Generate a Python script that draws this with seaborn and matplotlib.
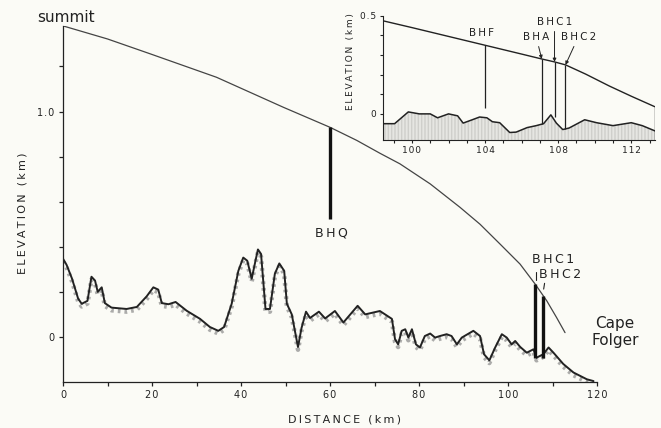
import numpy as np
import pandas as pd
import matplotlib
matplotlib.use("Agg")
import matplotlib.pyplot as plt
import seaborn as sns

# ice surface along the flow line (km, km)
surf_x = [0, 10, 19.6, 34.5, 49.5, 60, 66, 71.2, 75.7, 82.5, 89.2, 93.7, 98.2, 102.7, 106.1,
          108.7, 110.9, 112.8]
surf_y = [1.38, 1.322, 1.256, 1.152, 1.019, 0.93, 0.872, 0.815, 0.768, 0.679, 0.575, 0.50,
          0.412, 0.323, 0.234, 0.16, 0.086, 0.019]

# bedrock profile
bed_x = [0, 0.8, 2.0, 3.4, 4.2, 5.5, 6.4, 7.2, 7.8, 8.7, 9.4, 10.9, 14.3, 16.6, 18.8, 20.3,
         21.4, 22.2, 23.7, 25.3, 27.8, 30.8, 33.0, 34.9, 36.2, 37.9, 39.4, 40.5, 41.4, 42.4,
         43.1, 43.8, 44.5, 45.5, 46.5, 47.6, 48.6, 49.7, 50.3, 51.4, 52.8, 53.6, 54.6, 55.5,
         57.5, 58.9, 61.1, 63.0, 66.2, 67.9, 71.2, 73.9, 74.6, 75.3, 76.1, 76.9, 77.6, 78.4,
         79.3, 80.2, 81.3, 82.5, 83.6, 84.7, 86.2, 87.3, 88.5, 89.6, 92.2, 93.7, 94.6, 95.8,
         97.1, 98.6, 99.7, 100.8, 101.6, 102.7, 104.2, 105.7, 106.4, 107.9, 109.1, 110.2,
         112.4, 114.7, 117.7, 119.2]
bed_y = [0.347, 0.32, 0.26, 0.17, 0.147, 0.16, 0.267, 0.25, 0.20, 0.22, 0.15, 0.13, 0.124,
         0.133, 0.18, 0.22, 0.21, 0.15, 0.145, 0.155, 0.116, 0.08, 0.044, 0.027, 0.044, 0.147,
         0.293, 0.352, 0.338, 0.258, 0.324, 0.388, 0.368, 0.124, 0.124, 0.28, 0.326, 0.293,
         0.147, 0.10, -0.045, 0.04, 0.112, 0.084, 0.112, 0.082, 0.115, 0.064, 0.138, 0.10,
         0.115, 0.08, -0.01, -0.033, 0.027, 0.034, -0.003, 0.034, -0.033, -0.047, 0.004,
         0.015, -0.003, 0.004, 0.012, 0.004, -0.033, -0.003, 0.027, 0.004, -0.077, -0.104,
         -0.047, 0.012, -0.003, -0.033, -0.018, -0.044, -0.07, -0.055, -0.092, -0.077,
         -0.047, -0.07, -0.12, -0.158, -0.188, -0.196]

# boreholes on the main profile
holes_name = ["BHQ", "BHC1", "BHC2"]
holes_x = [60, 106.1, 107.9]
holes_bottom = [0.524, -0.093, -0.093]

# inset: last 15 km
surf_in_x = [98.4, 100, 102, 104, 106, 107.1, 107.8, 108.4, 109.5, 110.8, 112, 113.3]
surf_in_y = [0.475, 0.44, 0.395, 0.35, 0.305, 0.28, 0.265, 0.25, 0.203, 0.142, 0.09, 0.036]
bed_in_x = [98.4, 99.05, 99.8, 100.4, 101.0, 101.4, 102.0, 102.5, 102.8, 103.3, 103.7, 104.1,
            104.4, 104.8, 105.35, 105.7, 106.3, 106.8, 107.2, 107.6, 107.9, 108.25, 108.6,
            109.45, 110.1, 111.0, 112.0, 112.6, 113.3]
bed_in_y = [-0.05, -0.05, 0.01, 0.0, 0.0, -0.02, 0.0, -0.01, -0.047, -0.03, -0.016, -0.02,
            -0.04, -0.045, -0.095, -0.093, -0.07, -0.06, -0.05, -0.005, -0.047, -0.08, -0.072,
            -0.03, -0.045, -0.06, -0.045, -0.06, -0.087]
holes_in_name = ["BHF", "BHA", "BHC1", "BHC2"]
holes_in_x = [104, 107.1, 107.8, 108.4]
holes_in_bottom = [0.03, -0.05, -0.015, -0.075]

x_ticks = list(range(0, 121, 10))
x_ticklabels = ["0", "", "20", "", "40", "", "60", "", "80", "", "100", "", "120"]
y_ticks = [0, 0.2, 0.4, 0.6, 0.8, 1.0, 1.2]
y_ticklabels = ["0", "", "", "", "", "1.0", ""]
xin_ticks = list(range(99, 114))
xin_ticklabels = ["", "100", "", "", "", "104", "", "", "", "108", "", "", "", "112", ""]
yin_ticks = [0, 0.1, 0.2, 0.3, 0.4, 0.5]
yin_ticklabels = ["0", "", "", "", "", "0.5"]

thin = "\u2009"
hair = "\u200a"
def spaced(s, sep=thin):
    return sep.join(s)

bg = "#fbfbf6"
ink = "#222222"
sns.set_style("ticks")
plt.rcParams["font.family"] = ["DejaVu Sans"]
plt.rcParams["axes.edgecolor"] = ink
plt.rcParams["xtick.color"] = ink
plt.rcParams["ytick.color"] = ink
plt.rcParams["lines.solid_joinstyle"] = "round"

fig = plt.figure(figsize=(6.61, 4.28), dpi=100, facecolor=bg)
ax = fig.add_axes([0.0953, 0.1075, 0.808, 0.832])
ax.set_facecolor(bg)

surf = pd.DataFrame({"x": surf_x, "y": surf_y})
bed = pd.DataFrame({"x": bed_x, "y": bed_y})

# stippled underside of the bed line
ax.plot(bed["x"], bed["y"] - 0.012, color="#8a8a8a", lw=3.2, ls=(0, (0.6, 0.9)), alpha=0.7)
sns.lineplot(data=bed, x="x", y="y", ax=ax, color=ink, lw=1.4, sort=False, estimator=None)
sns.lineplot(data=surf, x="x", y="y", ax=ax, color="#444444", lw=0.9, sort=False, estimator=None)

for name, hx, hb in zip(holes_name, holes_x, holes_bottom):
    top = np.interp(hx, surf_x, surf_y)
    ax.vlines(hx, hb, top, color="#111111", lw=2.4)

ax.text(60.4, 0.462, spaced("BHQ"), ha="center", va="center", fontsize=9, color=ink)
ax.annotate(spaced("BHC1"), xy=(106.3, 0.24), xytext=(110.0, 0.342), ha="center", va="center",
            fontsize=9, color=ink,
            arrowprops=dict(arrowstyle="-", lw=0.8, color=ink,
                            connectionstyle="angle,angleA=0,angleB=90", relpos=(0.12, 0)))
ax.text(111.7, 0.276, spaced("BHC2"), ha="center", va="center", fontsize=9, color=ink)
ax.annotate("", xy=(107.9, 0.2), xytext=(108.3, 0.25),
            arrowprops=dict(arrowstyle="-", lw=0.8, color=ink))
ax.text(124, 0.022, "Cape\nFolger", ha="center", va="center", fontsize=11, color=ink,
        linespacing=1.2, clip_on=False)
ax.text(0.7, 1.418, "summit", ha="center", va="center", fontsize=11, color=ink, clip_on=False)

ax.set_xlim(0, 120)
ax.set_ylim(-0.2, 1.38)
ax.set_xticks(x_ticks)
ax.set_xticklabels([spaced(t, hair) for t in x_ticklabels])
ax.set_yticks(y_ticks)
ax.set_yticklabels([spaced(t, hair) for t in y_ticklabels])
ax.tick_params(length=3, width=0.9, labelsize=7, pad=3)
ax.set_xlabel("")
ax.set_ylabel("")
sns.despine(ax=ax)
for s in ["left", "bottom"]:
    ax.spines[s].set_linewidth(0.9)

fig.text(23 / 661, 1 - 213 / 428, spaced("ELEVATION (km)"), rotation=90, ha="center",
         va="center", fontsize=8, color=ink)
fig.text(344 / 661, 1 - 420 / 428, spaced("DISTANCE (km)"), ha="center", va="center",
         fontsize=8, color=ink)

# inset
axi = fig.add_axes([0.579, 0.673, 0.412, 0.29])
axi.patch.set_alpha(0)
ylo = -0.133
surf_in = pd.DataFrame({"x": surf_in_x, "y": surf_in_y})
bed_in = pd.DataFrame({"x": bed_in_x, "y": bed_in_y})
axi.fill_between(bed_in["x"], bed_in["y"], ylo, facecolor="#e6e6e2", edgecolor="#cfcfcb",
                 hatch="|||||", lw=0)
sns.lineplot(data=bed_in, x="x", y="y", ax=axi, color=ink, lw=1.1, sort=False, estimator=None)
sns.lineplot(data=surf_in, x="x", y="y", ax=axi, color=ink, lw=1.0, sort=False, estimator=None)
axi.vlines(surf_in_x[-1], ylo, surf_in_y[-1], color=ink, lw=1.0)

for name, hx, hb in zip(holes_in_name, holes_in_x, holes_in_bottom):
    top = np.interp(hx, surf_in_x, surf_in_y)
    axi.vlines(hx, hb, top, color=ink, lw=0.9)

axi.text(103.8, 0.413, spaced("BHF"), ha="center", va="center", fontsize=7.5, color=ink)
lbl_pos = {"BHA": (106.8, 0.367), "BHC1": (107.8, 0.444), "BHC2": (109.1, 0.367)}
for name, hx in zip(holes_in_name, holes_in_x):
    if name not in lbl_pos:
        continue
    top = np.interp(hx, surf_in_x, surf_in_y)
    axi.annotate(spaced(name), xy=(hx, top), xytext=lbl_pos[name], ha="center", va="bottom",
                 fontsize=7.5, color=ink,
                 arrowprops=dict(arrowstyle="-|>", lw=0.7, color=ink, mutation_scale=5,
                                 shrinkA=1, shrinkB=0))

axi.set_xlim(98.4, 113.3)
axi.set_ylim(ylo, 0.5)
axi.set_xticks(xin_ticks)
axi.set_xticklabels([spaced(t, hair) for t in xin_ticklabels])
axi.set_yticks(yin_ticks)
axi.set_yticklabels([spaced(t, hair) for t in yin_ticklabels])
axi.tick_params(length=2.5, width=0.8, labelsize=6.5, pad=2)
axi.set_xlabel("")
axi.set_ylabel("")
sns.despine(ax=axi)
fig.text(351 / 661, 1 - 62 / 428, spaced("ELEVATION (km)"), rotation=90, ha="center",
         va="center", fontsize=6.5, color=ink)

fig.savefig("out.png", dpi=100, facecolor=bg)
